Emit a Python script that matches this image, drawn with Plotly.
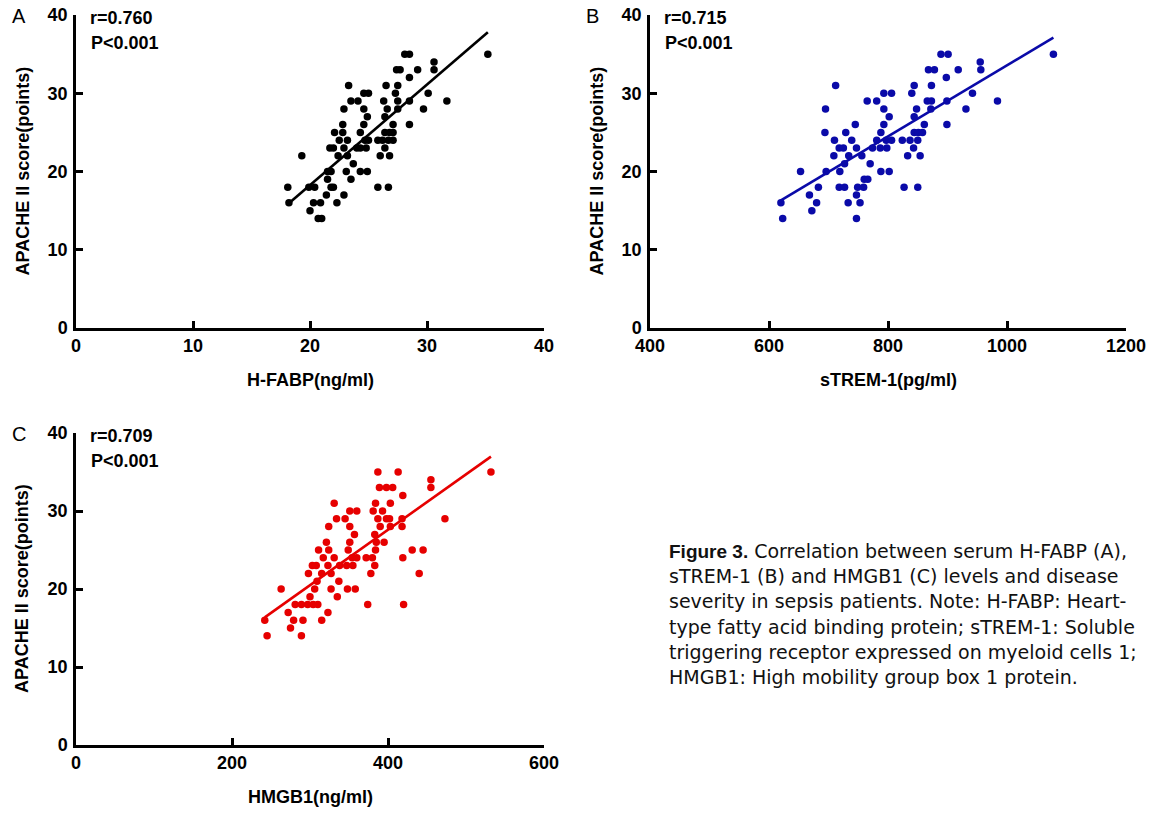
import numpy as np
import plotly.graph_objects as go

W, H = 1156, 813

# ---------------- data ----------------
# Panel A: H-FABP (ng/ml) vs APACHE II score
hfabp_x = [28.1, 28.5, 35.2,
           30.6,
           27.4, 27.7, 29.2, 30.6,
           28.5,
           23.3, 26.5, 27.5,
           24.6, 25.0, 27.3, 30.1,
           23.5, 24.1, 26.3, 27.5, 28.5, 31.7,
           22.9, 24.6, 26.6, 27.5, 29.7,
           24.9, 26.4,
           22.8, 24.6, 27.1, 28.5,
           22.1, 22.8, 24.3, 26.4, 26.8, 27.1,
           22.5, 23.2, 24.7, 25.0, 25.8, 26.2, 26.7, 27.1,
           21.7, 22.0, 22.9, 24.0, 24.3, 24.8, 26.4,
           19.3, 22.4, 23.2, 26.0, 26.8,
           23.7,
           21.5, 21.8, 23.1, 24.3, 24.9,
           21.5, 23.5,
           18.1, 19.9, 20.4, 21.8, 22.0, 25.8, 26.7,
           21.4, 22.9,
           18.2, 20.3, 20.9, 22.3,
           20.0,
           20.7, 21.0]
hfabp_y = [35, 35, 35,
           34,
           33, 33, 33, 33,
           32,
           31, 31, 31,
           30, 30, 30, 30,
           29, 29, 29, 29, 29, 29,
           28, 28, 28, 28, 28,
           27, 27,
           26, 26, 26, 26,
           25, 25, 25, 25, 25, 25,
           24, 24, 24, 24, 24, 24, 24, 24,
           23, 23, 23, 23, 23, 23, 23,
           22, 22, 22, 22, 22,
           21,
           20, 20, 20, 20, 20,
           19, 19,
           18, 18, 18, 18, 18, 18, 18,
           17, 17,
           16, 16, 16, 16,
           15,
           14, 14]

# Panel B: sTREM-1 (pg/ml) vs APACHE II score
strem_x = [889, 901, 1078,
           955,
           868, 878, 918, 956,
           898,
           712, 844, 873,
           793, 806, 840, 942,
           765, 781, 866, 873, 899, 984,
           695, 793, 848, 872, 931,
           802, 844,
           745, 793, 861, 899,
           694, 729, 788, 844, 851, 858,
           710, 739, 781, 797, 806, 824, 837, 850,
           718, 725, 747, 774, 787, 798, 843,
           709, 734, 756, 833, 854,
           727, 770,
           653, 696, 719, 788, 802,
           760, 766,
           683, 718, 727, 749, 759, 827, 850,
           668, 747,
           620, 680, 733, 753,
           672,
           623, 747]
strem_y = [35, 35, 35,
           34,
           33, 33, 33, 33,
           32,
           31, 31, 31,
           30, 30, 30, 30,
           29, 29, 29, 29, 29, 29,
           28, 28, 28, 28, 28,
           27, 27,
           26, 26, 26, 26,
           25, 25, 25, 25, 25, 25,
           24, 24, 24, 24, 24, 24, 24, 24,
           23, 23, 23, 23, 23, 23, 23,
           22, 22, 22, 22, 22,
           21, 21,
           20, 20, 20, 20, 20,
           19, 19,
           18, 18, 18, 18, 18, 18, 18,
           17, 17,
           16, 16, 16, 16,
           15,
           14, 14]

# Panel C: HMGB1 (ng/ml) vs APACHE II score
hmgb1_x = [387, 413, 532,
           455,
           389, 398, 406, 455,
           419,
           331, 384, 403,
           351, 360, 381, 393,
           334, 345, 387, 398, 402, 418, 473,
           324, 351, 390, 403, 418,
           357, 383,
           321, 351, 385, 395,
           311, 324, 349, 384, 431, 445,
           317, 331, 354, 360, 372, 380, 419,
           303, 308, 323, 338, 347, 355, 383,
           298, 315, 327, 378, 440,
           309, 337,
           263, 306, 327, 348, 358,
           300, 335,
           281, 289, 297, 304, 310, 374, 420,
           272, 323,
           242, 279, 291, 315,
           275,
           245, 289]
hmgb1_y = [35, 35, 35,
           34,
           33, 33, 33, 33,
           32,
           31, 31, 31,
           30, 30, 30, 30,
           29, 29, 29, 29, 29, 29, 29,
           28, 28, 28, 28, 28,
           27, 27,
           26, 26, 26, 26,
           25, 25, 25, 25, 25, 25,
           24, 24, 24, 24, 24, 24, 24,
           23, 23, 23, 23, 23, 23, 23,
           22, 22, 22, 22, 22,
           21, 21,
           20, 20, 20, 20, 20,
           19, 19,
           18, 18, 18, 18, 18, 18, 18,
           17, 17,
           16, 16, 16, 16,
           15,
           14, 14]

y_ticks = [0, 10, 20, 30, 40]
a_xticks = [0, 10, 20, 30, 40]
b_xticks = [400, 600, 800, 1000, 1200]
c_xticks = [0, 200, 400, 600]

stats_text = {"A": ("r=0.760", "P<0.001"),
              "B": ("r=0.715", "P<0.001"),
              "C": ("r=0.709", "P<0.001")}

caption_lines = [
    "<span style=\"font-family:Liberation Sans, Arial, sans-serif\"><b>Figure 3.</b></span> Correlation between serum H-FABP (A),",
    "sTREM-1 (B) and HMGB1 (C) levels and disease",
    "severity in sepsis patients. Note: H-FABP: Heart-",
    "type fatty acid binding protein; sTREM-1: Soluble",
    "triggering receptor expressed on myeloid cells 1;",
    "HMGB1: High mobility group box 1 protein.",
]

# ---------------- layout helpers ----------------
def fx(p):
    return p / W

def fy(p):
    return 1 - p / H

FONT = "Liberation Sans, Arial, sans-serif"
CAP_FONT = "DejaVu Sans, Verdana, sans-serif"

panels = [
    ("A", hfabp_x, hfabp_y, "#000000", [0, 40], a_xticks, "H-FABP(ng/ml)", 76, 544, 15, 328),
    ("B", strem_x, strem_y, "#0a0aa8", [400, 1200], b_xticks, "sTREM-1(pg/ml)", 650, 1126, 15, 328),
    ("C", hmgb1_x, hmgb1_y, "#e60000", [0, 600], c_xticks, "HMGB1(ng/ml)", 76, 544, 433, 745),
]

fig = go.Figure()
layout = dict(
    width=W, height=H,
    margin=dict(l=0, r=0, t=0, b=0, autoexpand=False),
    paper_bgcolor="white", plot_bgcolor="white",
    showlegend=False,
    font=dict(family=FONT, color="black"),
)
annotations = []

for i, (name, xs, ys, col, xr, xt, xtitle, L, R, T, B) in enumerate(panels, start=1):
    sfx = "" if i == 1 else str(i)
    xa, ya = "x" + sfx, "y" + sfx
    xs_arr = np.array(xs, dtype=float)
    ys_arr = np.array(ys, dtype=float)
    k, b0 = np.polyfit(xs_arr, ys_arr, 1)
    xl = np.array([xs_arr.min(), xs_arr.max()])
    fig.add_trace(go.Scatter(x=xl, y=k * xl + b0, mode="lines",
                             line=dict(color=col, width=2.6),
                             xaxis=xa, yaxis=ya, hoverinfo="skip"))
    fig.add_trace(go.Scatter(x=xs, y=ys, mode="markers",
                             marker=dict(color=col, size=7.5, line=dict(width=0)),
                             xaxis=xa, yaxis=ya, cliponaxis=False))
    axis_common = dict(showline=True, linecolor="black", linewidth=2.5,
                       ticks="inside", ticklen=7, tickwidth=2.5, tickcolor="black",
                       showgrid=False, zeroline=False, automargin=False,
                       tickfont=dict(family=FONT, size=18, color="black", weight="bold"))
    layout["xaxis" + sfx] = dict(axis_common, domain=[fx(L), fx(R)], range=xr,
                                 tickmode="array", tickvals=xt, anchor=ya, ticklabelstandoff=0)
    layout["yaxis" + sfx] = dict(axis_common, domain=[fy(B), fy(T)], range=[0, 40],
                                 tickmode="array", tickvals=y_ticks, anchor=xa, ticklabelstandoff=2)
    annotations.append(dict(text="<b>" + xtitle + "</b>", x=fx((L + R) / 2), y=fy(B + 52),
                            xref="paper", yref="paper", showarrow=False,
                            font=dict(size=18, family=FONT), xanchor="center", yanchor="middle"))
    annotations.append(dict(text="<b>APACHE II score(points)</b>", x=fx(L - 54), y=fy((T + B) / 2),
                            xref="paper", yref="paper", showarrow=False, textangle=-90,
                            font=dict(size=18, family=FONT), xanchor="center", yanchor="middle"))
    annotations.append(dict(text=name, x=fx(L - 66), y=fy(T + 1),
                            xref="paper", yref="paper", showarrow=False,
                            font=dict(size=20, family=FONT), xanchor="left", yanchor="middle"))
    r_txt, p_txt = stats_text[name]
    annotations.append(dict(text="<b>" + r_txt + "</b>", x=fx(L + 12), y=fy(T + 3),
                            xref="paper", yref="paper", showarrow=False,
                            font=dict(size=18, family=FONT), xanchor="left", yanchor="middle"))
    annotations.append(dict(text="<b>" + p_txt + "</b>", x=fx(L + 13), y=fy(T + 28),
                            xref="paper", yref="paper", showarrow=False,
                            font=dict(size=18, family=FONT), xanchor="left", yanchor="middle"))

cap_y0 = 551
for j, line in enumerate(caption_lines):
    annotations.append(dict(text=line, x=fx(667), y=fy(cap_y0 + 25.2 * j),
                            xref="paper", yref="paper", showarrow=False,
                            font=dict(size=19, family=CAP_FONT, color="#111111"),
                            xanchor="left", yanchor="middle"))

layout["annotations"] = annotations
fig.update_layout(**layout)
fig.write_html("out.html",
               config={"displayModeBar": False},
               post_script="document.body.style.margin='0';document.body.style.padding='0';")
